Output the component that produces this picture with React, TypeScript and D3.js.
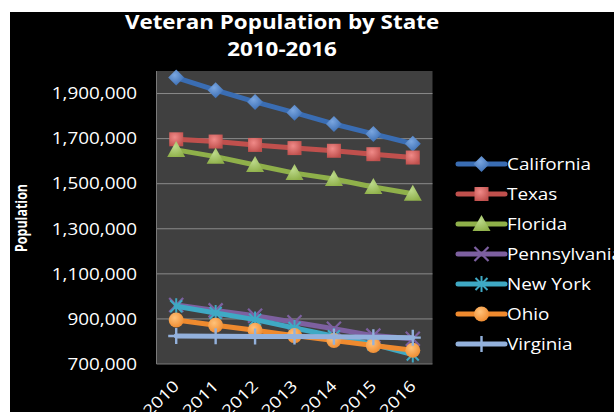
import React from "react";
import * as d3 from "d3";

const years = ["2010", "2011", "2012", "2013", "2014", "2015", "2016"];
const california = [1971000, 1915000, 1863000, 1815000, 1765000, 1721000, 1677000];
const texas = [1697000, 1687000, 1672000, 1658000, 1646000, 1631000, 1616000];
const florida = [1650000, 1620000, 1583000, 1547000, 1521000, 1485000, 1455000];
const pennsylvania = [962000, 938000, 914000, 885000, 856000, 826000, 812000];
const newYork = [956000, 926000, 897000, 860000, 823000, 787000, 742000];
const ohio = [895000, 872000, 850000, 826000, 804000, 782000, 761000];
const virginia = [824000, 823000, 822000, 822000, 821000, 819000, 817000];
const yTicks = [700000, 900000, 1100000, 1300000, 1500000, 1700000, 1900000];

type Marker = "diamond" | "square" | "triangle" | "x" | "star" | "circle" | "plus";
const seriesList: { name: string; values: number[]; color: string; light: string; marker: Marker }[] = [
  { name: "California", values: california, color: "#3a6db3", light: "#7aa6e0", marker: "diamond" },
  { name: "Texas", values: texas, color: "#c0504d", light: "#f08a88", marker: "square" },
  { name: "Florida", values: florida, color: "#8fb04a", light: "#bcd98a", marker: "triangle" },
  { name: "Pennsylvania", values: pennsylvania, color: "#7d60a0", light: "#a48cc4", marker: "x" },
  { name: "New York", values: newYork, color: "#3fa9c4", light: "#7fd0e4", marker: "star" },
  { name: "Ohio", values: ohio, color: "#ef8a2e", light: "#ffc27a", marker: "circle" },
  { name: "Virginia", values: virginia, color: "#93b1dc", light: "#c4d6f0", marker: "plus" },
];

const FONT = "'Open Sans', 'DejaVu Sans', sans-serif";
const STRETCH = 1.18;

function MarkerShape({ type, x, y, color, id }: { type: Marker; x: number; y: number; color: string; id: string }) {
  const fill = `url(#grad-${id})`;
  switch (type) {
    case "diamond":
      return <path d={`M${x},${y - 8}L${x + 8},${y}L${x},${y + 8}L${x - 8},${y}Z`} fill={fill} />;
    case "square":
      return <rect x={x - 7} y={y - 7} width={14} height={14} fill={fill} />;
    case "triangle":
      return <path d={`M${x},${y - 9}L${x + 9},${y + 7}L${x - 9},${y + 7}Z`} fill={fill} />;
    case "circle":
      return <circle cx={x} cy={y} r={7.5} fill={fill} />;
    case "x":
      return (
        <path d={`M${x - 7},${y - 7}L${x + 7},${y + 7}M${x + 7},${y - 7}L${x - 7},${y + 7}`} stroke={color} strokeWidth={2.2} fill="none" />
      );
    case "star":
      return (
        <path
          d={`M${x - 6},${y - 6}L${x + 6},${y + 6}M${x + 6},${y - 6}L${x - 6},${y + 6}M${x},${y - 8}L${x},${y + 8}`}
          stroke={color}
          strokeWidth={2}
          fill="none"
        />
      );
    case "plus":
      return <path d={`M${x - 8},${y}L${x + 8},${y}M${x},${y - 8}L${x},${y + 8}`} stroke={color} strokeWidth={2.4} fill="none" />;
  }
  return null;
}

export default function App() {
  const W = 614;
  const H = 412;
  const plot = { left: 156.5, right: 432.5, top: 71, bottom: 364 };
  const x = d3.scalePoint<string>().domain(years).range([plot.left, plot.right]).padding(0.5);
  const y = d3.scaleLinear().domain([700000, 2000000]).range([plot.bottom, plot.top]);
  const line = d3
    .line<number>()
    .x((_, i) => x(years[i]) as number)
    .y((d) => y(d));

  const legendX0 = 458;
  const legendX1 = 505;
  const legendY0 = 164;
  const legendStep = 30;

  return (
    <svg width={W} height={H} style={{ position: "absolute", left: 0, top: 0, display: "block" }}>
      <defs>
        {seriesList.map((s, i) => (
          <radialGradient key={i} id={`grad-${i}`} cx="40%" cy="35%" r="70%">
            <stop offset="0%" stopColor={s.light} />
            <stop offset="100%" stopColor={s.color} />
          </radialGradient>
        ))}
      </defs>
      <rect x={0} y={0} width={W} height={H} fill="#ffffff" />
      <rect x={10} y={12} width={W - 10} height={H - 12} fill="#000000" />

      <g fontFamily={FONT} fill="#ffffff" fontWeight="bold" fontSize={20} textAnchor="middle">
        <text transform={`translate(282,29) scale(1.12,1)`}>Veteran Population by State</text>
        <text transform={`translate(282,56) scale(1.12,1)`}>2010-2016</text>
      </g>

      <rect x={plot.left} y={plot.top} width={plot.right - plot.left} height={plot.bottom - plot.top} fill="#404040" />
      {yTicks.slice(1).map((t) => (
        <line key={t} x1={plot.left} x2={plot.right} y1={y(t)} y2={y(t)} stroke="#8a8a8a" strokeWidth={1} />
      ))}
      <line x1={plot.left} x2={plot.left} y1={plot.top} y2={plot.bottom} stroke="#7a7a7a" strokeWidth={1} />
      <line x1={plot.left} x2={plot.right} y1={plot.bottom} y2={plot.bottom} stroke="#7a7a7a" strokeWidth={1} />

      <g fontFamily={FONT} fill="#ffffff" fontSize={16} textAnchor="end">
        {yTicks.map((t) => (
          <text key={t} transform={`translate(137,${y(t)}) scale(${STRETCH},1)`} dy="0.36em">
            {d3.format(",")(t)}
          </text>
        ))}
      </g>
      <text
        transform="translate(27,218) rotate(-90) scale(0.78,1)"
        textAnchor="middle"
        fontFamily={FONT}
        fontWeight="bold"
        fontSize={16}
        fill="#ffffff"
      >
        Population
      </text>

      <g fontFamily={FONT} fill="#ffffff" fontSize={16} textAnchor="end">
        {years.map((yr) => (
          <text key={yr} transform={`translate(${(x(yr) as number) + 4},${387}) rotate(-45) scale(${STRETCH},1)`}>
            {yr}
          </text>
        ))}
      </g>

      {seriesList.map((s, i) => (
        <g key={s.name}>
          <path d={line(s.values) || ""} fill="none" stroke={s.color} strokeWidth={5} strokeLinejoin="round" strokeLinecap="round" />
          {s.values.map((v, j) => (
            <MarkerShape key={j} type={s.marker} x={x(years[j]) as number} y={y(v)} color={s.color} id={String(i)} />
          ))}
        </g>
      ))}

      <g fontFamily={FONT} fontSize={16} fill="#ffffff">
        {seriesList.map((s, i) => {
          const ly = legendY0 + i * legendStep;
          const cx = (legendX0 + legendX1) / 2;
          return (
            <g key={s.name}>
              <line x1={legendX0} x2={legendX1} y1={ly} y2={ly} stroke={s.color} strokeWidth={5} strokeLinecap="round" />
              <MarkerShape type={s.marker} x={cx} y={ly} color={s.color} id={String(i)} />
              <text transform={`translate(${legendX1 + 2},${ly}) scale(${STRETCH},1)`} dy="0.36em">
                {s.name}
              </text>
            </g>
          );
        })}
      </g>
    </svg>
  );
}
